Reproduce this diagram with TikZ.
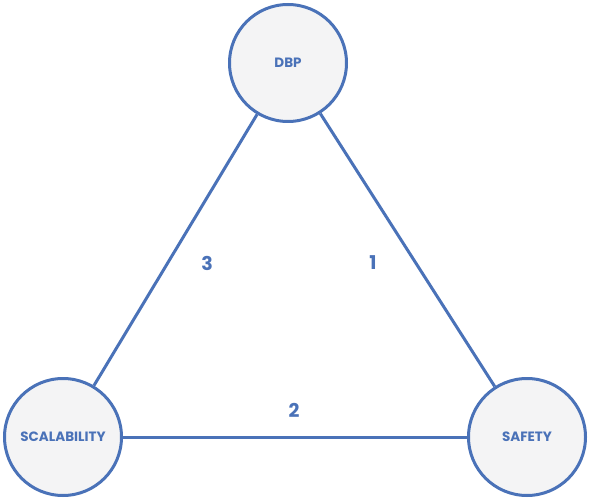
\documentclass[tikz,border=0pt]{standalone}
\usepackage{fontspec}
\setmainfont{Poppins}
\definecolor{sininen}{HTML}{4A72B8}
\definecolor{harmaa}{HTML}{F4F4F5}
\begin{document}
\begin{tikzpicture}[x=1pt,y=1pt,
	pallo/.style={circle, draw=sininen, line width=3pt, fill=harmaa, minimum size=117pt, inner sep=0pt, text=sininen, font=\fontsize{13.5}{15}\selectfont\bfseries},
	numero/.style={text=sininen, font=\fontsize{19}{22}\selectfont\bfseries}]
	\useasboundingbox (0,0) rectangle (589,499);
	%kolmion kulmat
	\node[pallo] (dbp) at (288,436) {DBP};
	\node[pallo] (scal) at (63,62) {SCALABILITY};
	\node[pallo] (safe) at (527,62) {SAFETY};
	%sivut
	\draw[sininen, line width=3pt] (dbp)--(safe);
	\draw[sininen, line width=3pt] (scal)--(safe);
	\draw[sininen, line width=3pt] (dbp)--(scal);
	%numerot
	\node[numero] (n3) at (207,236) {3};
	\node[numero] (n1) at (373,236) {1};
	\node[numero] (n2) at (294,89) {2};
\end{tikzpicture}
\end{document}
